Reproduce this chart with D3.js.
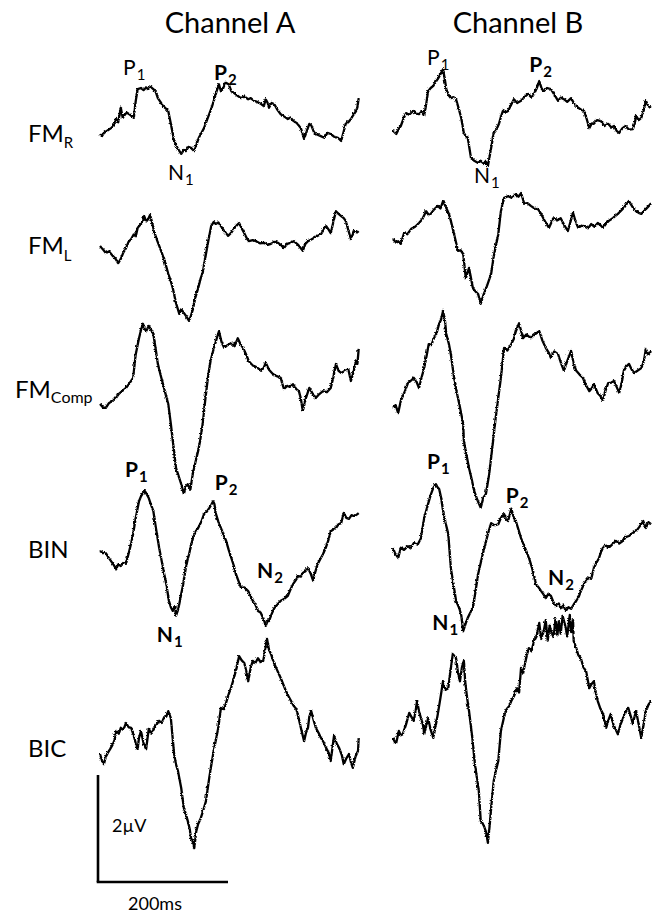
<!DOCTYPE html>
<html><head><meta charset="utf-8">
<script src="https://cdn.jsdelivr.net/npm/d3@7"></script>
<style>html,body{margin:0;padding:0;background:#fff;}svg{display:block;}</style>
</head><body>
<script>
// ---------- DATA (time in ms, amplitude in µV relative to each row's baseline) ----------
const channels = ["Channel A", "Channel B"];
const rows = [
  {name: "FM", sub: "R"},
  {name: "FM", sub: "L"},
  {name: "FM", sub: "Comp"},
  {name: "BIN", sub: ""},
  {name: "BIC", sub: ""}
];
const scaleBarTime = 200;   // ms
const scaleBarAmp = 2;      // µV
const scaleBarTimeLabel = "200ms";
const scaleBarAmpLabel = "2µV";

const fmrA = [[0,0],[3,-0.04],[6,0.02],[11,0.06],[17,0.11],[21,0.15],[25,0.28],[28,0.22],[32,0.49],[35,0.30],[37,0.34],[41,0.40],[45,0.37],[49,0.33],[52,0.30],[55,0.62],[58,0.84],[63,0.86],[67,0.82],[71,0.87],[74,0.84],[78,0.88],[82,0.84],[86,0.78],[89,0.67],[93,0.60],[97,0.52],[101,0.48],[105,0.43],[109,0.19],[114,-0.13],[120,-0.28],[125,-0.37],[129,-0.30],[132,-0.32],[136,-0.24],[140,-0.26],[145,-0.32],[149,-0.18],[152,-0.07],[156,0.02],[160,0.11],[164,0.24],[168,0.37],[172,0.50],[175,0.62],[179,0.78],[183,0.93],[186,0.80],[189,0.84],[193,0.96],[198,0.93],[202,0.80],[206,0.77],[211,0.72],[217,0.67],[222,0.70],[228,0.65],[232,0.67],[237,0.62],[242,0.60],[248,0.56],[252,0.52],[255,0.65],[258,0.58],[260,0.49],[264,0.58],[268,0.56],[273,0.45],[278,0.37],[283,0.33],[289,0.28],[293,0.31],[298,0.24],[303,0.20],[309,0.11],[314,-0.09],[318,0.05],[322,0.19],[325,0.16],[329,0.04],[332,0],[338,-0.03],[345,-0.07],[350,0.02],[355,0],[360,-0.05],[366,-0.07],[371,-0.13],[375,0.05],[378,0.19],[382,0.22],[386,0.28],[390,0.36],[394,0.43],[396,0.50],[398,0.67]];
const fmrB = [[0,0.06],[5,0],[9,0.10],[12,0.15],[16,0.28],[20,0.39],[25,0.36],[31,0.43],[35,0.38],[40,0.37],[44,0.42],[48,0.34],[51,0.55],[54,0.80],[58,0.86],[62,0.90],[66,0.98],[69,1.03],[73,1.12],[77,1.21],[80,1.00],[82,0.84],[86,0.72],[89,0.67],[93,0.69],[97,0.65],[101,0.48],[105,0.30],[109,0.02],[112,-0.04],[115,-0.07],[120,-0.45],[125,-0.50],[131,-0.54],[135,-0.50],[140,-0.56],[143,-0.52],[146,-0.60],[151,-0.26],[155,0.02],[159,0.08],[163,0.19],[166,0.32],[169,0.43],[173,0.40],[177,0.43],[182,0.55],[186,0.65],[191,0.58],[197,0.62],[203,0.70],[208,0.75],[213,0.68],[217,0.75],[221,0.85],[225,0.99],[229,0.84],[232,0.80],[237,0.86],[243,0.84],[248,0.74],[254,0.62],[258,0.68],[263,0.65],[268,0.60],[274,0.67],[279,0.56],[285,0.49],[290,0.45],[294,0.43],[298,0.28],[302,0.11],[306,0.20],[309,0.19],[314,0.26],[320,0.24],[325,0.15],[331,0.19],[336,0.12],[340,0.15],[344,0.06],[348,0.02],[353,0.11],[358,0.15],[363,0.08],[369,0.09],[372,0.20],[374,0.34],[378,0.26],[382,0.30],[386,0.45],[389,0.62],[393,0.52],[397,0.49]];
const fmlA = [[0,0],[5,-0.07],[9,-0.13],[14,-0.10],[20,-0.19],[24,-0.24],[28,-0.32],[32,-0.24],[36,-0.12],[40,-0.04],[44,0.08],[48,0.13],[52,0.22],[55,0.18],[58,0.34],[63,0.41],[66,0.45],[68,0.56],[71,0.46],[74,0.50],[77,0.58],[80,0.45],[83,0.28],[88,0.10],[94,-0.09],[100,-0.30],[105,-0.52],[108,-0.62],[112,-0.79],[117,-1.07],[122,-1.27],[125,-1.18],[129,-1.25],[133,-1.32],[137,-1.40],[140,-1.30],[143,-1.18],[147,-0.95],[151,-0.79],[155,-0.60],[158,-0.50],[163,-0.15],[167,0.12],[171,0.37],[175,0.45],[178,0.41],[182,0.44],[186,0.37],[190,0.30],[194,0.24],[197,0.19],[202,0.25],[206,0.32],[210,0.38],[214,0.43],[218,0.33],[222,0.24],[226,0.14],[229,0.09],[235,0.11],[240,0.09],[246,0.05],[252,0.06],[258,0.02],[263,0.04],[268,0.08],[274,0.06],[279,0.01],[283,-0.04],[288,0.04],[293,0.06],[298,0.09],[305,0.02],[312,-0.09],[316,0.04],[320,0.09],[325,0.12],[329,0.15],[335,0.19],[340,0.22],[344,0.30],[348,0.37],[352,0.30],[355,0.24],[359,0.45],[363,0.65],[367,0.60],[371,0.56],[375,0.52],[378,0.47],[382,0.30],[386,0.13],[391,0.28],[395,0.25],[398,0.28]];
const fmlB = [[0,0.13],[5,0.06],[8,0.09],[12,0.04],[17,0.24],[22,0.22],[28,0.32],[34,0.36],[40,0.43],[45,0.50],[51,0.65],[55,0.58],[58,0.60],[63,0.68],[69,0.75],[73,0.70],[77,0.84],[82,0.71],[86,0.60],[89,0.47],[94,0.22],[100,-0.09],[104,-0.08],[108,-0.15],[112,-0.60],[117,-0.41],[123,-0.79],[127,-0.85],[131,-0.90],[135,-1.08],[139,-0.92],[143,-0.80],[147,-0.66],[151,-0.52],[155,-0.19],[162,0.22],[166,0.65],[171,0.90],[177,0.93],[183,0.90],[189,0.97],[193,0.92],[197,0.99],[202,0.79],[207,0.80],[212,0.75],[218,0.70],[223,0.69],[228,0.60],[232,0.50],[236,0.42],[240,0.34],[244,0.45],[248,0.52],[253,0.48],[258,0.52],[263,0.40],[269,0.28],[273,0.45],[277,0.62],[281,0.45],[285,0.34],[290,0.38],[294,0.37],[300,0.33],[305,0.41],[310,0.36],[315,0.43],[320,0.38],[323,0.34],[328,0.42],[332,0.47],[338,0.52],[346,0.60],[350,0.65],[355,0.71],[359,0.78],[363,0.84],[368,0.74],[374,0.65],[378,0.62],[382,0.60],[386,0.65],[389,0.69],[393,0.74],[397,0.80]];
const fmcA = [[0,0],[5,-0.07],[9,-0.07],[14,0.02],[20,0.06],[25,0.12],[29,0.19],[34,0.24],[40,0.30],[45,0.38],[51,0.49],[55,0.93],[60,1.23],[63,1.38],[66,1.50],[69,1.40],[71,1.36],[75,1.46],[78,1.40],[82,1.31],[86,1.00],[89,0.75],[93,0.55],[97,0.37],[101,0.18],[105,0],[109,-0.37],[112,-0.69],[117,-1.20],[121,-1.35],[125,-1.50],[129,-1.68],[132,-1.55],[135,-1.50],[139,-1.60],[143,-1.29],[147,-1.08],[151,-0.88],[154,-0.69],[158,-0.37],[162,0.08],[166,0.49],[170,0.80],[174,0.99],[179,1.20],[183,1.36],[187,1.16],[191,1.05],[196,1.10],[202,1.14],[207,1.08],[212,1.23],[216,1.12],[220,1.05],[225,0.92],[229,0.80],[235,0.72],[239,0.70],[243,0.67],[248,0.62],[252,0.68],[255,0.77],[260,0.64],[266,0.56],[272,0.52],[278,0.49],[280,0.40],[283,0.28],[288,0.34],[292,0.32],[297,0.37],[302,0.28],[306,0.24],[309,0.10],[312,-0.13],[317,0.12],[322,0.30],[327,0.20],[332,0.11],[337,0.18],[343,0.24],[349,0.22],[355,0.30],[359,0.50],[363,0.75],[367,0.62],[371,0.58],[377,0.62],[382,0.65],[386,0.43],[390,0.60],[394,0.80],[396,0.75],[398,1.03]];
const fmcB = [[0,-0.07],[4,-0.02],[8,-0.17],[12,0.06],[17,0.20],[23,0.39],[28,0.44],[32,0.49],[36,0.42],[40,0.30],[44,0.50],[48,0.67],[52,0.92],[55,1.12],[59,1.10],[63,1.23],[67,1.32],[71,1.50],[74,1.58],[77,1.74],[80,1.55],[82,1.31],[86,1.12],[89,0.93],[94,0.49],[98,0.22],[102,0],[108,-0.37],[109,-0.69],[113,-0.95],[117,-1.20],[121,-1.40],[125,-1.63],[130,-1.80],[135,-1.94],[139,-1.75],[143,-1.68],[148,-1.31],[154,-0.69],[158,-0.26],[162,0.12],[166,0.49],[171,1.05],[176,1.00],[182,1.12],[186,1.22],[189,1.36],[194,1.51],[200,1.23],[205,1.30],[212,1.23],[218,1.30],[225,1.36],[230,1.18],[235,1.05],[240,0.95],[243,0.86],[248,0.98],[254,0.93],[258,0.78],[263,0.62],[268,0.80],[274,0.99],[278,0.75],[282,0.62],[287,0.55],[292,0.49],[297,0.35],[302,0.24],[306,0.30],[309,0.37],[315,0.20],[319,0.15],[323,0.06],[327,0.25],[331,0.39],[336,0.40],[340,0.43],[344,0.32],[348,0.21],[352,0.40],[355,0.62],[359,0.70],[363,0.75],[367,0.65],[371,0.58],[376,0.62],[382,0.67],[386,0.80],[389,1.03],[393,0.92],[397,0.99]];
const binA = [[0,0],[5,-0.04],[9,-0.04],[13,-0.12],[17,-0.19],[21,-0.26],[25,-0.34],[28,-0.25],[32,-0.28],[36,-0.22],[40,-0.24],[45,0],[48,0.15],[51,0.32],[55,0.62],[60,0.93],[63,1.02],[66,1.08],[69,1.12],[71,1.08],[75,0.99],[78,0.88],[82,0.75],[86,0.43],[91,0.06],[97,-0.32],[102,-0.62],[106,-0.93],[109,-1.05],[112,-1.12],[115,-1.05],[117,-1.21],[120,-1.10],[122,-0.99],[125,-0.80],[128,-0.62],[132,-0.32],[135,-0.15],[137,-0.06],[140,0.10],[143,0.24],[147,0.36],[151,0.43],[156,0.55],[160,0.69],[164,0.73],[168,0.80],[171,0.86],[174,0.93],[176,0.88],[178,0.71],[182,0.55],[186,0.43],[190,0.30],[194,0.19],[198,0.02],[202,-0.13],[206,-0.28],[209,-0.43],[213,-0.56],[217,-0.69],[222,-0.68],[228,-0.75],[232,-0.85],[235,-0.93],[239,-1.00],[243,-1.12],[247,-1.15],[251,-1.25],[253,-1.32],[255,-1.40],[258,-1.30],[260,-1.31],[264,-1.18],[268,-1.07],[273,-1.00],[278,-0.93],[283,-0.90],[289,-0.84],[293,-0.72],[297,-0.62],[301,-0.55],[305,-0.47],[309,-0.48],[312,-0.41],[316,-0.38],[320,-0.32],[324,-0.42],[328,-0.56],[331,-0.40],[335,-0.24],[339,-0.15],[343,-0.06],[347,0.05],[351,0.19],[355,0.37],[359,0.40],[363,0.43],[367,0.50],[371,0.52],[375,0.71],[379,0.62],[383,0.60],[387,0.67],[391,0.65],[395,0.68],[398,0.71]];
const binB = [[0,0.06],[3,-0.04],[8,-0.13],[12,0.06],[17,0.02],[23,0.09],[27,0.05],[32,0.15],[38,0.12],[43,0.24],[48,0.62],[54,0.88],[58,1.05],[62,1.18],[66,1.25],[68,1.20],[71,1.16],[74,1.00],[77,0.75],[81,0.52],[85,0.32],[89,-0.32],[93,-0.62],[97,-0.93],[102,-1.07],[105,-1.20],[108,-1.50],[112,-1.35],[115,-1.25],[119,-1.15],[123,-1.07],[127,-0.75],[131,-0.43],[135,-0.22],[138,-0.06],[142,0.12],[146,0.32],[151,0.52],[156,0.48],[162,0.50],[166,0.62],[171,0.69],[174,0.60],[177,0.56],[182,0.79],[186,0.62],[189,0.56],[193,0.40],[197,0.24],[201,0.12],[205,0],[210,-0.16],[214,-0.32],[220,-0.62],[224,-0.68],[228,-0.75],[232,-0.82],[235,-0.88],[239,-0.80],[243,-0.84],[247,-0.96],[251,-1.03],[255,-0.98],[258,-1.07],[262,-1.02],[266,-1.12],[270,-1.05],[274,-1.08],[278,-1.00],[282,-0.93],[286,-0.85],[289,-0.75],[293,-0.64],[297,-0.56],[301,-0.50],[305,-0.52],[309,-0.32],[313,-0.22],[317,-0.13],[320,-0.02],[323,0.06],[328,0.10],[332,0.06],[337,0.12],[343,0.19],[348,0.14],[354,0.19],[358,0.26],[363,0.28],[368,0.33],[374,0.37],[379,0.45],[385,0.56],[389,0.43],[393,0.54],[397,0.50]];
const bicA = [[0,0],[3,-0.12],[6,-0.19],[9,-0.05],[12,0.02],[16,0.10],[20,0.19],[23,0.28],[25,0.43],[29,0.38],[32,0.49],[36,0.45],[40,0.58],[44,0.50],[48,0.49],[52,0.34],[55,0.20],[58,0.09],[60,0.30],[63,0.43],[67,0.20],[71,0.09],[75,0.47],[79,0.38],[83,0.47],[87,0.55],[91,0.62],[95,0.58],[98,0.67],[102,0.70],[105,0.80],[109,0.67],[114,0],[117,-0.20],[120,-0.32],[125,-0.64],[129,-1.01],[132,-1.12],[135,-1.25],[138,-1.40],[140,-1.57],[143,-1.65],[145,-1.76],[148,-1.45],[151,-1.31],[155,-1.20],[159,-1.05],[163,-0.88],[168,-0.45],[172,-0.15],[175,0.06],[182,0.49],[186,0.86],[191,0.84],[198,1.12],[202,1.25],[206,1.42],[210,1.60],[214,1.83],[218,1.75],[222,1.70],[225,1.55],[228,1.36],[232,1.62],[235,1.74],[239,1.70],[243,1.79],[247,1.72],[251,1.74],[254,1.92],[257,2.15],[260,1.95],[263,1.87],[267,1.72],[271,1.61],[275,1.50],[278,1.42],[282,1.30],[286,1.18],[290,1.08],[294,0.99],[298,0.90],[302,0.84],[306,0.65],[309,0.49],[314,0.24],[317,0.40],[320,0.49],[322,0.70],[325,0.80],[329,0.62],[332,0.49],[336,0.40],[340,0.30],[344,0.22],[348,0.11],[352,0.02],[355,-0.13],[360,0.34],[364,0.20],[368,0.11],[372,-0.02],[375,-0.19],[379,-0.08],[383,0],[386,-0.15],[389,-0.26],[393,-0.05],[397,0.06],[398,0.30]];
const bicB = [[0,0.30],[3,0.22],[5,0.21],[9,0.43],[12,0.35],[15,0.37],[20,0.55],[25,0.77],[28,0.70],[32,0.62],[35,0.82],[37,0.99],[40,0.80],[43,0.67],[46,0.55],[48,0.37],[51,0.52],[54,0.67],[58,0.45],[62,0.30],[66,0.55],[69,0.75],[73,1.05],[77,1.36],[81,1.20],[85,1.23],[89,1.60],[92,1.87],[95,1.82],[97,1.79],[100,1.52],[103,1.36],[106,1.62],[109,1.74],[111,1.36],[114,1.05],[117,0.80],[122,0.30],[126,-0.19],[132,-0.69],[135,-1.25],[138,-1.30],[140,-1.35],[143,-1.45],[146,-1.66],[149,-1.30],[151,-1.01],[155,-0.50],[159,-0.28],[162,-0.13],[166,0.43],[171,0.70],[175,0.84],[179,0.90],[182,0.99],[186,1.08],[191,1.23],[194,1.15],[197,1.61],[200,1.50],[203,1.68],[206,1.85],[209,1.98],[213,1.92],[217,2.11],[221,2.20],[225,2.45],[228,2.15],[232,2.30],[235,2.50],[238,2.12],[241,2.40],[243,2.30],[247,2.18],[250,2.52],[253,2.22],[255,2.48],[258,2.25],[261,2.58],[265,2.40],[268,2.20],[272,2.60],[274,2.28],[277,2.50],[278,2.11],[282,1.98],[285,1.85],[289,1.79],[293,1.62],[297,1.55],[302,1.23],[305,1.30],[309,1.36],[312,1.15],[315,0.99],[319,0.85],[323,0.75],[328,0.49],[331,0.62],[335,0.75],[339,0.55],[343,0.45],[346,0.37],[350,0.55],[354,0.67],[358,0.78],[362,0.86],[366,0.70],[369,0.56],[372,0.72],[374,0.80],[378,0.55],[382,0.30],[386,0.58],[389,0.80],[393,0.92],[397,0.99]];

const traces = [
  [fmrA, fmrB],
  [fmlA, fmlB],
  [fmcA, fmcB],
  [binA, binB],
  [bicA, bicB]
];

// peak annotations: [row, channel, letter, subscript, t(ms), v(µV), bold]
const peakLabels = [
  [0,0,"P","1",37,1.08,false],
  [0,0,"N","1",106,-0.88,false],
  [0,0,"P","2",177,0.99,true],
  [0,1,"P","1",54,1.27,false],
  [0,1,"N","1",126,-0.93,false],
  [0,1,"P","2",211,1.14,true],
  [3,0,"P","1",40,1.36,true],
  [3,0,"N","1",89,-1.72,true],
  [3,0,"P","2",178,1.12,true],
  [3,0,"N","2",243,-0.52,true],
  [3,1,"P","1",54,1.51,true],
  [3,1,"N","1",62,-1.50,true],
  [3,1,"P","2",175,0.88,true],
  [3,1,"N","2",240,-0.65,true]
];

// ---------- LAYOUT ----------
const W = 657, H = 913;
const rowBase = [133, 245, 403, 550, 753];   // y of 0 µV for each row
const pxPerUV = 53.5;
const chanX = [[99, 359], [392, 652]];       // x range for 0..400 ms
const FONT = "Lato, 'Open Sans', sans-serif";

const svg = d3.select("body").append("svg").attr("width", W).attr("height", H)
  .style("font-family", FONT);

// rendering texture for the recorded (noisy) EEG traces
const defs = svg.append("defs");
const flt = defs.append("filter").attr("id", "rough")
  .attr("filterUnits", "userSpaceOnUse").attr("x", 0).attr("y", 0).attr("width", W).attr("height", H);
flt.append("feTurbulence").attr("type", "turbulence").attr("baseFrequency", "0.9 0.6")
  .attr("numOctaves", 1).attr("seed", 4).attr("result", "n");
flt.append("feDisplacementMap").attr("in", "SourceGraphic").attr("in2", "n")
  .attr("scale", 2.8).attr("xChannelSelector", "R").attr("yChannelSelector", "G");

const xScales = chanX.map(r => d3.scaleLinear().domain([0, 400]).range(r));
const yScales = rowBase.map(b => d3.scaleLinear().domain([0, 1]).range([b, b - pxPerUV]));

// titles
const titleX = [230, 518];
channels.forEach((c, i) => {
  svg.append("text").attr("x", titleX[i]).attr("y", 33).attr("text-anchor", "middle")
    .attr("font-size", 29).attr("fill", "#000").text(c);
});

// row labels
const rowLabelPos = [[28,142,6],[28,254,7],[15,398,5],[28,558,0],[28,757,0]];
rows.forEach((r, i) => {
  const [x, y, dy] = rowLabelPos[i];
  const t = svg.append("text").attr("x", x).attr("y", y).attr("font-size", 24).attr("fill", "#000");
  t.append("tspan").text(r.name);
  if (r.sub) t.append("tspan").attr("dy", dy).attr("font-size", r.sub === "Comp" ? 16 : 15).text(r.sub);
});

// traces
const g = svg.append("g").attr("filter", "url(#rough)");
traces.forEach((pair, ri) => {
  pair.forEach((data, ci) => {
    const line = d3.line().x(d => xScales[ci](d[0])).y(d => yScales[ri](d[1]));
    g.append("path").attr("d", line(data)).attr("fill", "none").attr("stroke", "#000")
      .attr("stroke-width", 2.3).attr("stroke-linejoin", "round");
  });
});

// peak labels
peakLabels.forEach(([ri, ci, L, s, t, v, bold]) => {
  const txt = svg.append("text").attr("x", xScales[ci](t)).attr("y", yScales[ri](v))
    .attr("font-size", 21).attr("font-weight", bold ? 700 : 400).attr("fill", "#000");
  txt.append("tspan").text(L);
  txt.append("tspan").attr("dx", 1).attr("dy", 5).attr("font-size", 15).text(s);
});

// scale bars (drawn with the channel A scales, on BIC row)
const sbY = d3.scaleLinear().domain([0, 1]).range([882, 882 - pxPerUV]);
const sx = xScales[0];
const sbX0 = sx(0) - 1;
svg.append("line").attr("x1", sbX0).attr("x2", sbX0).attr("y1", sbY(0)).attr("y2", sbY(scaleBarAmp))
  .attr("stroke", "#000").attr("stroke-width", 2.6);
svg.append("line").attr("x1", sbX0 - 1.3).attr("x2", sbX0 + (sx(scaleBarTime) - sx(0))).attr("y1", sbY(0)).attr("y2", sbY(0))
  .attr("stroke", "#000").attr("stroke-width", 2.6);
svg.append("text").attr("x", 112).attr("y", 832).attr("font-size", 18).attr("fill", "#000").text(scaleBarAmpLabel);
svg.append("text").attr("x", 128).attr("y", 910).attr("font-size", 18).attr("fill", "#000").text(scaleBarTimeLabel);
</script>
</body></html>
